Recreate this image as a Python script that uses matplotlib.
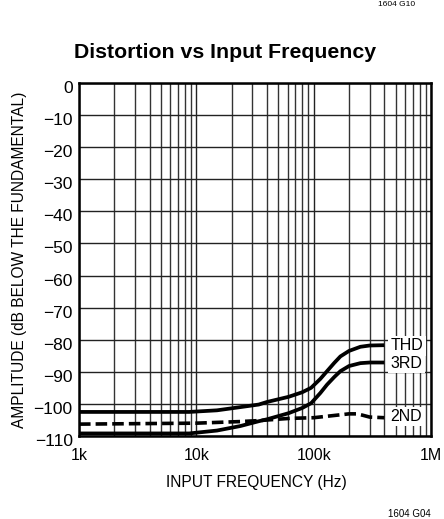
import matplotlib

matplotlib.use("Agg")
import matplotlib.pyplot as plt
from matplotlib.ticker import FixedLocator, NullFormatter
from matplotlib.transforms import ScaledTranslation

plt.rcParams["font.family"] = ["Liberation Sans Narrow", "Liberation Sans", "DejaVu Sans"]

# values (Hz, dB)
thd_freq = [1e3, 5e3, 8.7e3, 15e3, 23.7e3, 34e3, 40e3, 61e3, 79.5e3, 95e3, 114e3, 130e3,
            150e3, 169e3, 200e3, 250e3, 300e3, 400e3]
thd = [-102.5, -102.5, -102.5, -102.0, -101.0, -100.2, -99.4, -97.8, -96.4, -95.0, -92.2,
       -89.8, -87.2, -85.2, -83.5, -82.2, -81.8, -81.7]

third_freq = [1e3, 5e3, 8.7e3, 15e3, 23.7e3, 34e3, 40e3, 61e3, 79.5e3, 95e3, 114e3, 130e3,
              150e3, 169e3, 200e3, 250e3, 300e3, 400e3]
third = [-109.2, -109.2, -109.2, -108.3, -106.9, -105.4, -104.8, -102.9, -101.3, -99.8, -96.6,
         -94.0, -91.6, -89.8, -88.2, -87.3, -87.1, -87.1]

second_freq = [1e3, 10e3, 23.7e3, 34e3, 63e3, 100e3, 150e3, 200e3, 230e3, 260e3, 300e3, 400e3]
second = [-106.3, -106.0, -105.5, -105.2, -104.5, -104.3, -103.6, -103.1, -103.1, -103.5,
          -104.1, -104.3]

curve_labels = ["THD", "3RD", "2ND"]
label_y = [-81.9, -87.4, -104.0]

y_ticks = list(range(0, -111, -10))
x_ticks = [1e3, 1e4, 1e5, 1e6]
x_tick_labels = ["1k", "10k", "100k", "1M"]


def main() -> None:
    fig = plt.figure(figsize=(4.44, 5.19), dpi=100)
    ax = fig.add_axes([79 / 444, 83 / 519, 352 / 444, 353 / 519])

    ax.plot(thd_freq, thd, color="black", lw=2.7, solid_capstyle="butt", zorder=4)
    ax.plot(third_freq, third, color="black", lw=2.7, solid_capstyle="butt", zorder=4)
    ax.plot(second_freq, second, color="black", lw=2.6, dashes=(3.2, 1.4), zorder=4)

    ax.set_xscale("log")
    ax.set_xlim(1e3, 1e6)
    ax.set_ylim(-110, 0)

    minor = [m * 10 ** e for e in range(3, 6) for m in range(2, 10)]
    ax.xaxis.set_minor_locator(FixedLocator(minor))
    ax.xaxis.set_minor_formatter(NullFormatter())
    ax.set_xticks(x_ticks)
    ax.set_xticklabels(x_tick_labels)
    ax.set_yticks(y_ticks)
    ax.set_yticklabels([f"\u2212{abs(v)}" if v else "0" for v in y_ticks])
    ax.tick_params(which="both", length=0)
    ax.tick_params(axis="y", labelsize=12.5, pad=4.5)
    ax.tick_params(axis="x", labelsize=11.5, pad=9)
    shift = ScaledTranslation(0, -4 / 100, fig.dpi_scale_trans)
    for lab in ax.get_yticklabels():
        lab.set_transform(lab.get_transform() + shift)

    ax.grid(which="major", color="#222222", lw=1.0)
    ax.grid(which="minor", axis="x", color="#333333", lw=1.0)
    for sp in ax.spines.values():
        sp.set_linewidth(1.8)
        sp.set_zorder(6)

    for name, yv in zip(curve_labels, label_y):
        ax.text(
            0.885,
            yv,
            name,
            transform=ax.get_yaxis_transform(),
            fontsize=11.5,
            ha="left",
            va="center",
            zorder=5,
            bbox=dict(facecolor="white", edgecolor="none", pad=1.6),
        )

    fig.text(256 / 444, 1 - 482 / 519, "INPUT FREQUENCY (Hz)", fontsize=11.2,
             ha="center", va="center")
    fig.text(20 / 444, 1 - 260 / 519, "AMPLITUDE (dB BELOW THE FUNDAMENTAL)", fontsize=11.2,
             rotation=90, ha="center", va="center")

    fig.text(225 / 444, 1 - 52 / 519, "Distortion vs Input Frequency", fontsize=15.3,
             fontweight="bold", ha="center", va="center")
    fig.text(431 / 444, 1 - 514 / 519, "1604 G04", fontsize=7, ha="right", va="center")
    fig.text(415 / 444, 0.999, "1604 G10", fontsize=6, ha="right", va="top")

    fig.savefig("out.png", dpi=100)
    plt.close(fig)


if __name__ == "__main__":
    main()
